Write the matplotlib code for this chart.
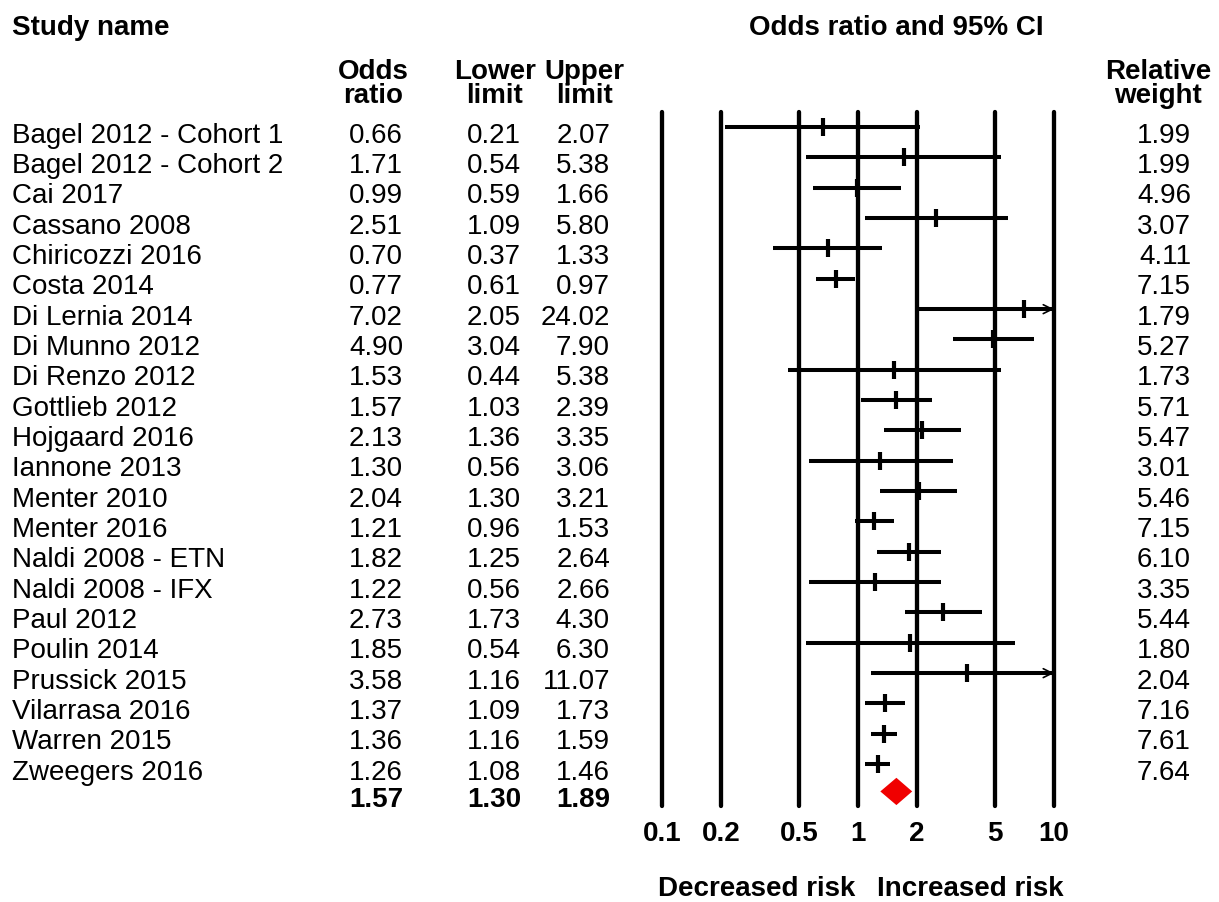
import matplotlib
matplotlib.use('Agg')
import matplotlib.pyplot as plt
import matplotlib.transforms as mtransforms

plt.rcParams['font.family'] = ['Liberation Sans', 'DejaVu Sans']

studies = [
    'Bagel 2012 - Cohort 1', 'Bagel 2012 - Cohort 2', 'Cai 2017', 'Cassano 2008',
    'Chiricozzi 2016', 'Costa 2014', 'Di Lernia 2014', 'Di Munno 2012',
    'Di Renzo 2012', 'Gottlieb 2012', 'Hojgaard 2016', 'Iannone 2013',
    'Menter 2010', 'Menter 2016', 'Naldi 2008 - ETN', 'Naldi 2008 - IFX',
    'Paul 2012', 'Poulin 2014', 'Prussick 2015', 'Vilarrasa 2016',
    'Warren 2015', 'Zweegers 2016',
]
odds_ratio = [0.66, 1.71, 0.99, 2.51, 0.70, 0.77, 7.02, 4.90, 1.53, 1.57, 2.13,
              1.30, 2.04, 1.21, 1.82, 1.22, 2.73, 1.85, 3.58, 1.37, 1.36, 1.26]
lower_limit = [0.21, 0.54, 0.59, 1.09, 0.37, 0.61, 2.05, 3.04, 0.44, 1.03, 1.36,
               0.56, 1.30, 0.96, 1.25, 0.56, 1.73, 0.54, 1.16, 1.09, 1.16, 1.08]
upper_limit = [2.07, 5.38, 1.66, 5.80, 1.33, 0.97, 24.02, 7.90, 5.38, 2.39, 3.35,
               3.06, 3.21, 1.53, 2.64, 2.66, 4.30, 6.30, 11.07, 1.73, 1.59, 1.46]
rel_weight = [1.99, 1.99, 4.96, 3.07, 4.11, 7.15, 1.79, 5.27, 1.73, 5.71, 5.47,
              3.01, 5.46, 7.15, 6.10, 3.35, 5.44, 1.80, 2.04, 7.16, 7.61, 7.64]

# pooled estimate
pooled_or = 1.57
pooled_lower = 1.30
pooled_upper = 1.89

ticks = [0.1, 0.2, 0.5, 1, 2, 5, 10]
tick_labels = ['0.1', '0.2', '0.5', '1', '2', '5', '10']

W, H = 1219, 903
FS = 20

fig = plt.figure(figsize=(W / 100, H / 100), dpi=100)
ax = fig.add_axes([662 / W, 1 - 807 / H, 392 / W, 694 / H])
ax.set_xscale('log')
ax.set_xlim(0.1, 10)
ax.set_ylim(22.38, -0.5)
for s in ax.spines.values():
    s.set_visible(False)
ax.set_yticks([])
ax.set_xticks(ticks)
ax.set_xticklabels(tick_labels, fontweight='bold', fontsize=FS)
ax.minorticks_off()
ax.tick_params(axis='x', length=0, pad=10)

for t in ticks:
    ax.axvline(t, color='black', lw=3.1, solid_capstyle='round', clip_on=False, zorder=1)

rows = list(range(len(studies)))
pooled_row = len(studies)

# confidence intervals, clipped at the axis limit with an arrow
for i in rows:
    hi = min(upper_limit[i], 10)
    ax.plot([lower_limit[i], hi], [i, i], color='black', lw=2.9,
            solid_capstyle='butt', clip_on=False, zorder=2)
    if upper_limit[i] > 10:
        ax.annotate('', xy=(10, i), xytext=(8, i),
                    arrowprops=dict(arrowstyle='->', lw=1.2, color='black',
                                    mutation_scale=16, shrinkA=0, shrinkB=0),
                    annotation_clip=False)

ax.plot(odds_ratio, rows, linestyle='none', marker='|', ms=12.5, mew=3.0,
        color='black', zorder=3)

# pooled diamond
ax.fill([pooled_lower, pooled_or, pooled_upper, pooled_or],
        [pooled_row - 0.1, pooled_row - 0.55, pooled_row - 0.1, pooled_row + 0.35],
        color='#f00000', lw=0, zorder=3)

# table columns, rows aligned with the plot rows
trans = mtransforms.blended_transform_factory(fig.transFigure, ax.transData)
dy = 0.25
for i in rows:
    y = i + dy
    ax.text(12 / W, y, studies[i], transform=trans, ha='left', va='center', fontsize=FS)
    ax.text(403 / W, y, f'{odds_ratio[i]:.2f}', transform=trans, ha='right', va='center', fontsize=FS)
    ax.text(521 / W, y, f'{lower_limit[i]:.2f}', transform=trans, ha='right', va='center', fontsize=FS)
    ax.text(610 / W, y, f'{upper_limit[i]:.2f}', transform=trans, ha='right', va='center', fontsize=FS)
    ax.text(1191 / W, y, f'{rel_weight[i]:.2f}', transform=trans, ha='right', va='center', fontsize=FS)

y = pooled_row + 0.15
ax.text(403 / W, y, f'{pooled_or:.2f}', transform=trans, ha='right', va='center', fontsize=FS, fontweight='bold')
ax.text(521 / W, y, f'{pooled_lower:.2f}', transform=trans, ha='right', va='center', fontsize=FS, fontweight='bold')
ax.text(610 / W, y, f'{pooled_upper:.2f}', transform=trans, ha='right', va='center', fontsize=FS, fontweight='bold')

# headers
fig.text(12 / W, 1 - 28 / H, 'Study name', ha='left', va='center', fontsize=FS, fontweight='bold')
fig.text(896 / W, 1 - 28 / H, 'Odds ratio and 95% CI', ha='center', va='center', fontsize=FS, fontweight='bold')
for x, label in [(373, 'Odds\nratio'), (495, 'Lower\nlimit'), (584, 'Upper\nlimit'),
                 (1158, 'Relative\nweight')]:
    fig.text(x / W, 1 - 84 / H, label, ha='center', va='center', fontsize=FS,
             fontweight='bold', linespacing=0.92)

fig.text(855 / W, 1 - 889 / H, 'Decreased risk', ha='right', va='center', fontsize=FS, fontweight='bold')
fig.text(877 / W, 1 - 889 / H, 'Increased risk', ha='left', va='center', fontsize=FS, fontweight='bold')

fig.savefig('out.png', dpi=100, facecolor='white')
